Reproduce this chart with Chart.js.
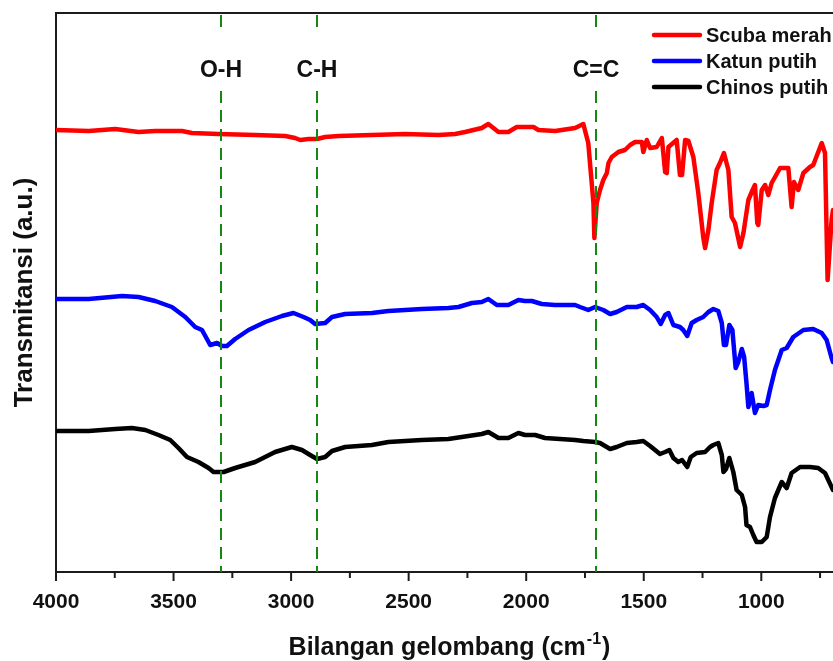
<!DOCTYPE html>
<html>
<head>
<meta charset="utf-8">
<script src="https://cdn.jsdelivr.net/npm/chart.js@4.4.1/dist/chart.umd.min.js"></script>
<style>
  html, body { margin: 0; padding: 0; background: #fff; }
</style>
</head>
<body>
<canvas id="ftir" width="833" height="661"></canvas>
<script>
// FTIR spectra, wavenumber (cm-1) vs. transmittance (a.u., stacked offsets)
const scubaWave = [4000, 3861, 3748, 3649, 3578, 3464, 3422, 3309, 3153, 3025, 2983, 2961, 2926, 2890, 2855, 2798, 2656, 2515, 2373, 2302,
  2260, 2189, 2161, 2118, 2076, 2040, 2005, 1969, 1948, 1877, 1792, 1757, 1736, 1714, 1710, 1700, 1686, 1672, 1657, 1650,
  1636, 1608, 1580, 1558, 1537, 1508, 1502, 1487, 1473, 1445, 1423, 1409, 1402, 1395, 1360, 1346, 1337, 1324, 1310, 1289,
  1268, 1247, 1239, 1225, 1211, 1190, 1176, 1159, 1140, 1126, 1112, 1090, 1076, 1055, 1037, 1027, 1017, 1013, 998, 984,
  970, 956, 920, 885, 871, 861, 843, 821, 793, 779, 743, 729, 718, 701, 695];
const scubaT = [442, 441, 443, 440, 441, 441, 439, 438, 437, 436, 434, 432, 433, 433, 435, 436, 437, 438, 437, 438,
  440, 444, 448, 440, 440, 445, 445, 445, 442, 441, 444, 448, 429, 369, 334, 369, 382, 392, 399, 409,
  415, 420, 422, 427, 430, 430, 420, 432, 424, 425, 434, 400, 399, 425, 432, 397, 397, 432, 431, 415,
  379, 335, 324, 342, 369, 402, 409, 419, 402, 355, 349, 325, 339, 372, 382, 387, 349, 347, 382, 387,
  377, 389, 404, 404, 365, 390, 382, 399, 405, 407, 429, 419, 292, 352, 362];

const katunWave = [4000, 3861, 3719, 3649, 3578, 3507, 3450, 3408, 3379, 3344, 3315, 3294, 3273, 3238, 3181, 3110, 3039, 2990, 2947, 2919,
  2898, 2855, 2826, 2770, 2656, 2586, 2444, 2331, 2288, 2231, 2189, 2161, 2125, 2076, 2033, 2005, 1976, 1934, 1877, 1792,
  1771, 1736, 1707, 1672, 1643, 1615, 1572, 1530, 1502, 1473, 1445, 1428, 1409, 1395, 1374, 1346, 1332, 1315, 1296, 1275,
  1247, 1225, 1204, 1183, 1168, 1159, 1150, 1136, 1123, 1109, 1098, 1083, 1073, 1063, 1055, 1041, 1027, 1013, 991, 977,
  963, 942, 913, 892, 864, 821, 779, 743, 722, 701, 695];
const katunT = [273, 273, 276, 275, 271, 265, 255, 245, 242, 227, 229, 226, 226, 233, 242, 250, 256, 259, 255, 252,
  248, 249, 255, 258, 259, 261, 263, 264, 265, 269, 270, 273, 267, 267, 272, 271, 271, 268, 267, 267,
  265, 262, 265, 262, 258, 260, 265, 265, 267, 262, 255, 248, 257, 259, 247, 245, 242, 236, 249, 252,
  255, 260, 263, 261, 249, 227, 227, 247, 242, 204, 210, 223, 215, 189, 165, 179, 159, 167, 166, 167,
  182, 202, 222, 224, 235, 242, 243, 239, 232, 214, 210];

const chinosWave = [4000, 3861, 3748, 3677, 3620, 3564, 3514, 3479, 3443, 3394, 3351, 3330, 3287, 3238, 3153, 3068, 2997, 2954, 2919, 2890,
  2855, 2826, 2770, 2656, 2586, 2444, 2331, 2274, 2189, 2161, 2118, 2076, 2033, 2005, 1962, 1920, 1792, 1757, 1707, 1686,
  1643, 1615, 1572, 1530, 1502, 1473, 1431, 1409, 1391, 1374, 1353, 1337, 1315, 1300, 1275, 1239, 1218, 1204, 1183, 1168,
  1161, 1150, 1136, 1119, 1105, 1083, 1069, 1063, 1048, 1034, 1020, 998, 977, 963, 942, 913, 892, 871, 835, 793,
  758, 729, 701, 695];
const chinosT = [141, 141, 143, 144, 142, 137, 132, 124, 115, 110, 104, 100, 100, 104, 110, 120, 125, 122, 117, 113,
  115, 121, 125, 127, 130, 132, 133, 135, 138, 140, 134, 134, 139, 137, 137, 134, 132, 131, 130, 129,
  123, 125, 129, 130, 131, 126, 118, 120, 122, 114, 110, 112, 105, 115, 119, 120, 125, 127, 129, 117,
  100, 103, 114, 100, 82, 77, 65, 47, 45, 37, 30, 30, 35, 55, 74, 90, 84, 99, 105, 105,
  104, 99, 85, 82];

const seriesNames = ['Scuba merah', 'Katun putih', 'Chinos putih'];
const seriesColors = ['#ff0000', '#0000ff', '#000000'];

const peakWave = [3300, 2890, 1705];
const peakNames = ['O-H', 'C-H', 'C=C'];

const xTicks = [4000, 3500, 3000, 2500, 2000, 1500, 1000];
const xMinorStep = 250;

const FONT = "'Liberation Sans', Arial, Helvetica, sans-serif";
const AXIS_COLOR = '#1c1c1c';
const TEXT_COLOR = '#111111';

function zip(xs, ys) {
  return xs.map((x, i) => ({ x: x, y: ys[i] }));
}

const frameAndMarks = {
  id: 'frameAndMarks',
  afterDatasetsDraw(chart) {
    const { ctx, chartArea } = chart;
    const xs = chart.scales.x;
    ctx.save();

    // top frame line
    ctx.strokeStyle = AXIS_COLOR;
    ctx.lineWidth = 2;
    ctx.beginPath();
    ctx.moveTo(chartArea.left, chartArea.top);
    ctx.lineTo(chartArea.right, chartArea.top);
    ctx.stroke();

    // outward ticks on the bottom axis, major every 500, minor every 250
    for (let v = xs.max; v >= xs.min; v -= 1) {
      if (v % xMinorStep !== 0) continue;
      const px = xs.getPixelForValue(v);
      if (px > chartArea.right - 1) continue;
      const len = v % 500 === 0 ? 9 : 6;
      ctx.beginPath();
      ctx.moveTo(px, chartArea.bottom);
      ctx.lineTo(px, chartArea.bottom + len);
      ctx.stroke();
    }

    // dashed band markers
    ctx.strokeStyle = '#118a11';
    ctx.lineWidth = 2;
    ctx.setLineDash([12, 7]);
    peakWave.forEach(w => {
      const px = Math.round(xs.getPixelForValue(w));
      ctx.beginPath();
      ctx.moveTo(px, chartArea.top + 2);
      ctx.lineTo(px, chartArea.bottom);
      ctx.stroke();
    });
    ctx.setLineDash([]);

    ctx.font = 'bold 23px ' + FONT;
    ctx.textAlign = 'center';
    ctx.textBaseline = 'middle';
    peakWave.forEach((w, i) => {
      const px = Math.round(xs.getPixelForValue(w));
      const tw = ctx.measureText(peakNames[i]).width;
      ctx.fillStyle = '#ffffff';
      ctx.fillRect(px - tw / 2 - 4, chartArea.top + 17, tw + 8, 56);
      ctx.fillStyle = TEXT_COLOR;
      ctx.fillText(peakNames[i], px, chartArea.top + 58);
    });

    // legend in the upper right corner
    ctx.font = 'bold 20px ' + FONT;
    ctx.textAlign = 'left';
    chart.data.datasets.forEach((ds, i) => {
      const y = chartArea.top + 22 + i * 26;
      ctx.strokeStyle = ds.borderColor;
      ctx.lineWidth = 4.5;
      ctx.lineCap = 'round';
      ctx.beginPath();
      ctx.moveTo(654, y);
      ctx.lineTo(700, y);
      ctx.stroke();
      ctx.fillStyle = TEXT_COLOR;
      ctx.fillText(ds.label, 706, y + 1);
    });

    // x axis title with superscript
    const main = 'Bilangan gelombang (cm';
    const sup = '-1';
    const tail = ')';
    ctx.font = 'bold 25px ' + FONT;
    const w1 = ctx.measureText(main).width;
    const w3 = ctx.measureText(tail).width;
    ctx.font = 'bold 16px ' + FONT;
    const w2 = ctx.measureText(sup).width;
    const total = w1 + w2 + w3 + 2;
    let tx = (chartArea.left + chartArea.right) / 2 + 5 - total / 2;
    const ty = chartArea.bottom + 83;
    ctx.textBaseline = 'alphabetic';
    ctx.fillStyle = TEXT_COLOR;
    ctx.font = 'bold 25px ' + FONT;
    ctx.fillText(main, tx, ty);
    tx += w1 + 1;
    ctx.font = 'bold 16px ' + FONT;
    ctx.fillText(sup, tx, ty - 11);
    tx += w2 + 1;
    ctx.font = 'bold 25px ' + FONT;
    ctx.fillText(tail, tx, ty);

    ctx.restore();
  }
};

const datasets = [
  zip(scubaWave, scubaT),
  zip(katunWave, katunT),
  zip(chinosWave, chinosT)
].map((data, i) => ({
  label: seriesNames[i],
  data: data,
  borderColor: seriesColors[i],
  backgroundColor: seriesColors[i],
  borderWidth: 4.5,
  borderJoinStyle: 'round',
  borderCapStyle: 'round',
  pointRadius: 0,
  tension: 0,
  fill: false
}));

new Chart(document.getElementById('ftir').getContext('2d'), {
  type: 'line',
  data: { datasets: datasets },
  options: {
    responsive: false,
    animation: false,
    devicePixelRatio: 1,
    layout: { padding: { top: 13, right: 0, bottom: 0, left: 0 } },
    plugins: {
      legend: { display: false },
      tooltip: { enabled: false }
    },
    scales: {
      x: {
        type: 'linear',
        reverse: true,
        min: 695,
        max: 4000,
        grid: { display: false, drawTicks: true, tickLength: 9 },
        border: { display: true, color: AXIS_COLOR, width: 2 },
        ticks: {
          includeBounds: false,
          autoSkip: false,
          maxRotation: 0,
          padding: 9,
          color: TEXT_COLOR,
          font: { family: FONT, size: 21, weight: 'bold' },
          callback: v => String(v)
        },
        afterBuildTicks: scale => { scale.ticks = xTicks.map(v => ({ value: v })); },
        afterFit: scale => { scale.height = 89; }
      },
      y: {
        min: 0,
        max: 559,
        grid: { display: false, drawTicks: false },
        border: { display: true, color: AXIS_COLOR, width: 2 },
        ticks: { display: false },
        title: {
          display: true,
          text: 'Transmitansi (a.u.)',
          color: TEXT_COLOR,
          font: { family: FONT, size: 26, weight: 'bold' },
          padding: { top: 9, bottom: 0 }
        },
        afterFit: scale => { scale.width = 56; }
      }
    }
  },
  plugins: [frameAndMarks]
});
</script>
</body>
</html>
